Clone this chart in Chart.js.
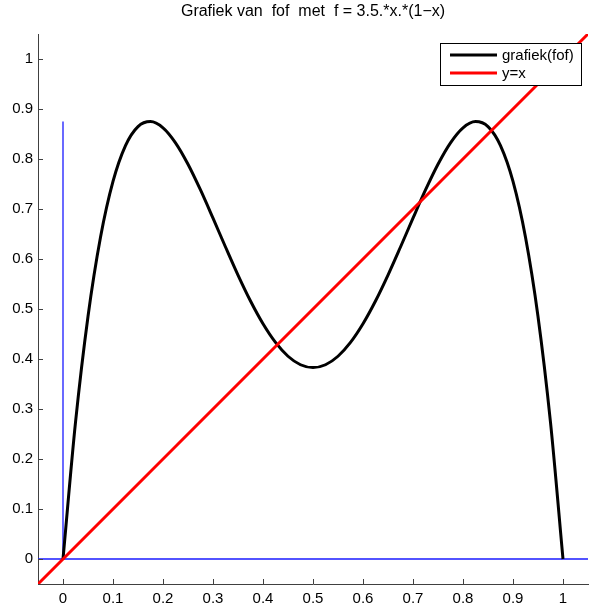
<!DOCTYPE html>
<html>
<head>
<meta charset="utf-8">
<script src="https://cdn.jsdelivr.net/npm/chart.js@4/dist/chart.umd.min.js"></script>
<style>
  html, body { margin: 0; padding: 0; background: #fff; }
  #wrap { width: 592px; height: 606px; }
</style>
</head>
<body>
<div id="wrap"><canvas id="fofChart"></canvas></div>
<script>
// sample points of f(f(x)) for f = 3.5 x (1 - x)
var xVals = [0, 0.025, 0.05, 0.075, 0.1, 0.125, 0.15, 0.175, 0.2, 0.225, 0.25, 0.275, 0.3, 0.325, 0.35, 0.375, 0.4, 0.425, 0.45, 0.475,
             0.5, 0.525, 0.55, 0.575, 0.6, 0.625, 0.65, 0.675, 0.7, 0.725, 0.75, 0.775, 0.8, 0.825, 0.85, 0.875, 0.9, 0.925, 0.95, 0.975, 1];
var fofVals = [0, 0.2731, 0.4851, 0.6435, 0.7552, 0.8269, 0.8649, 0.8749, 0.8624, 0.8324, 0.7896, 0.7381, 0.6817, 0.6240, 0.5678, 0.5159, 0.4704, 0.4331, 0.4055, 0.3885,
               0.3828, 0.3885, 0.4055, 0.4331, 0.4704, 0.5159, 0.5678, 0.6240, 0.6817, 0.7381, 0.7896, 0.8324, 0.8624, 0.8749, 0.8649, 0.8269, 0.7552, 0.6435, 0.4851, 0.2731, 0];

// diagonal y = x across the whole axis range
var diagX = [-0.05, 1.05];
var diagY = [-0.05, 1.05];

// blue helper lines: vertical at x = 0, horizontal at y = 0
var vertX = [0, 0];
var vertY = [0, 0.875];
var horX = [-0.05, 1.05];
var horY = [0, 0];

var tickVals = [0, 0.1, 0.2, 0.3, 0.4, 0.5, 0.6, 0.7, 0.8, 0.9, 1];
var axisMin = -0.05, axisMax = 1.05;

var titleText = 'Grafiek van  fof  met  f = 3.5.*x.*(1\u2212x)';
var FONT = 'Liberation Sans, Arial, Helvetica, sans-serif';
var FONT_SIZE = 15;

function pts(xs, ys) {
    return xs.map(function(x, i) { return {x: x, y: ys[i]}; });
}

var axisColor = '#404040';
var helperBlue = '#1a1aff';

// inward tick marks, MATLAB style
var tickMarks = {
    id: 'tickMarks',
    afterDraw: function(chart) {
        var ctx = chart.ctx, xs = chart.scales.x, ys = chart.scales.y, a = chart.chartArea;
        ctx.save();
        ctx.strokeStyle = axisColor;
        ctx.lineWidth = 1;
        ctx.beginPath();
        tickVals.forEach(function(v) {
            var px = Math.round(xs.getPixelForValue(v)) + 0.5;
            ctx.moveTo(px, a.bottom);
            ctx.lineTo(px, a.bottom - 5);
            var py = Math.round(ys.getPixelForValue(v)) + 0.5;
            ctx.moveTo(a.left, py);
            ctx.lineTo(a.left + 5, py);
        });
        ctx.stroke();
        ctx.restore();
    }
};

// title centred over the axes
var axesTitle = {
    id: 'axesTitle',
    afterDraw: function(chart) {
        var ctx = chart.ctx, a = chart.chartArea;
        ctx.save();
        ctx.fillStyle = '#000';
        ctx.font = '16px ' + FONT;
        ctx.textAlign = 'center';
        ctx.textBaseline = 'middle';
        ctx.fillText(titleText, (a.left + a.right) / 2, 12);
        ctx.restore();
    }
};

// boxed legend in the upper right corner
var boxLegend = {
    id: 'boxLegend',
    afterDraw: function(chart) {
        var ctx = chart.ctx;
        var items = chart.data.datasets.filter(function(d) { return d.inLegend; });
        var bx = 440, by = 43, bw = 141, bh = 42;
        ctx.save();
        ctx.fillStyle = '#fff';
        ctx.fillRect(bx, by, bw, bh);
        ctx.strokeStyle = '#000';
        ctx.lineWidth = 1;
        ctx.strokeRect(bx + 0.5, by + 0.5, bw, bh);
        ctx.font = FONT_SIZE + 'px ' + FONT;
        ctx.textBaseline = 'middle';
        items.forEach(function(d, i) {
            var y = by + 12 + i * 18;
            ctx.strokeStyle = d.borderColor;
            ctx.lineWidth = 3;
            ctx.beginPath();
            ctx.moveTo(bx + 10, y);
            ctx.lineTo(bx + 57, y);
            ctx.stroke();
            ctx.fillStyle = '#000';
            ctx.fillText(d.label, bx + 62, y + 1);
        });
        ctx.restore();
    }
};

function fixedTicks(scale) {
    scale.ticks = tickVals.map(function(v) { return {value: v}; });
}

var ctx = document.getElementById('fofChart').getContext('2d');
var fofChart = new Chart(ctx, {
    type: 'scatter',
    data: {
        datasets: [
            {
                label: 'vert',
                data: pts(vertX, vertY),
                showLine: true,
                borderColor: helperBlue,
                borderWidth: 1.3,
                pointRadius: 0,
                order: 3
            },
            {
                label: 'hor',
                data: pts(horX, horY),
                showLine: true,
                borderColor: helperBlue,
                borderWidth: 1.3,
                pointRadius: 0,
                order: 3
            },
            {
                label: 'grafiek(fof)',
                inLegend: true,
                data: pts(xVals, fofVals),
                showLine: true,
                borderColor: '#000',
                borderWidth: 3,
                pointRadius: 0,
                cubicInterpolationMode: 'monotone',
                order: 2
            },
            {
                label: 'y=x',
                inLegend: true,
                data: pts(diagX, diagY),
                showLine: true,
                borderColor: '#ff0000',
                borderWidth: 3,
                pointRadius: 0,
                order: 1
            }
        ]
    },
    options: {
        responsive: true,
        maintainAspectRatio: false,
        animation: false,
        layout: { padding: { top: 34, right: 4, left: 0, bottom: 0 } },
        plugins: {
            legend: { display: false },
            title: { display: false },
            tooltip: { enabled: false }
        },
        scales: {
            x: {
                type: 'linear',
                min: axisMin,
                max: axisMax,
                afterBuildTicks: fixedTicks,
                afterFit: function(scale) { scale.height = 22; },
                grid: { display: false, drawTicks: false },
                border: { display: true, color: axisColor, width: 1 },
                ticks: {
                    color: '#000',
                    padding: 6,
                    maxRotation: 0,
                    autoSkip: false,
                    font: { family: FONT, size: FONT_SIZE },
                    callback: function(v) { return String(+v.toFixed(1)); }
                }
            },
            y: {
                type: 'linear',
                min: axisMin,
                max: axisMax,
                afterBuildTicks: fixedTicks,
                afterFit: function(scale) { scale.width = 38; },
                grid: { display: false, drawTicks: false },
                border: { display: true, color: axisColor, width: 1 },
                ticks: {
                    color: '#000',
                    padding: 5,
                    autoSkip: false,
                    font: { family: FONT, size: FONT_SIZE },
                    callback: function(v) { return String(+v.toFixed(1)); }
                }
            }
        }
    },
    plugins: [tickMarks, axesTitle, boxLegend]
});
</script>
</body>
</html>
